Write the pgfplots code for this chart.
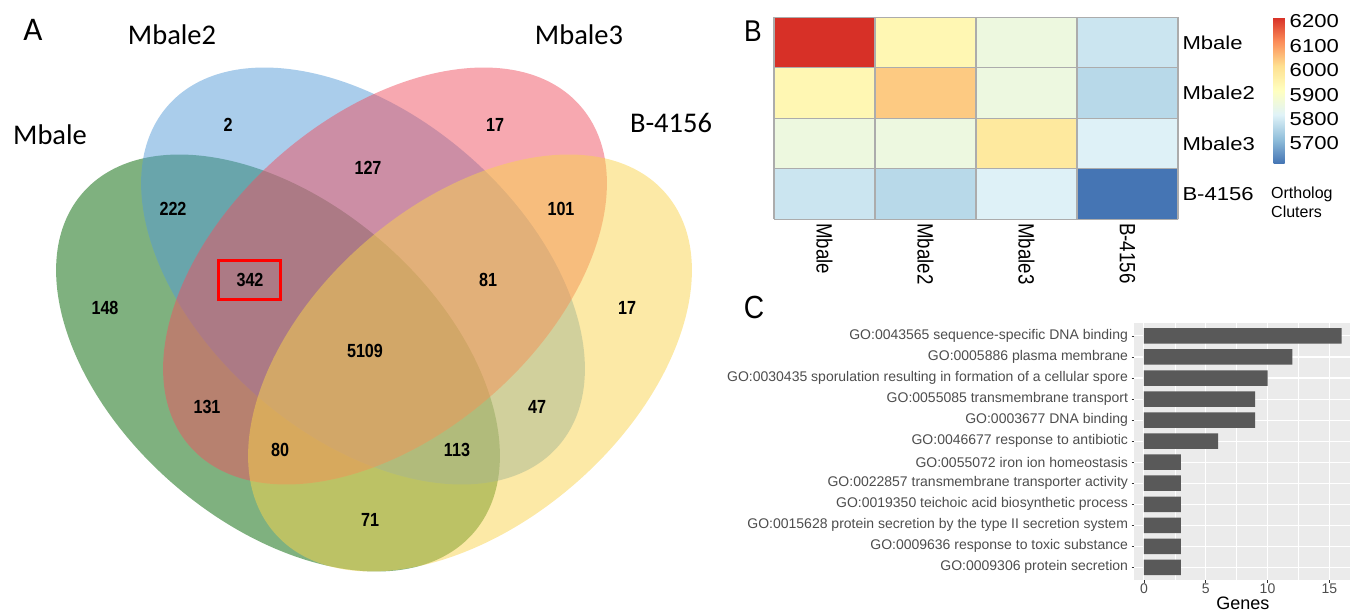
\documentclass[border=0pt]{standalone}
\usepackage{pgfplots}
\usepackage{pgfplotstable}
\pgfplotsset{compat=1.18}
\usepackage{fontspec}
\setmainfont{Liberation Sans}
\newfontfamily\calfont{Carlito}
\newfontfamily\numfont[FakeStretch=0.85]{Liberation Sans}
\newfontfamily\hmfont[FakeStretch=1.18]{Liberation Sans}
\newfontfamily\narrowfont[FakeStretch=0.88]{Liberation Sans}
\definecolor{vgreen}{RGB}{0,100,0}
\definecolor{vblue}{RGB}{85,155,215}
\definecolor{vpink}{RGB}{239,81,97}
\definecolor{vyellow}{RGB}{249,211,77}
\definecolor{ggbg}{RGB}{235,235,235}
\definecolor{ggbar}{RGB}{89,89,89}
\definecolor{ggtxt}{RGB}{77,77,77}
\definecolor{ggtick}{RGB}{51,51,51}

\pgfplotstableread{
x y n
228 125 2
495 125 17
368 168 127
173 209 222
561 209 101
250 279.5 342
488 280 81
105 308 148
627 308 17
365 351 5109
207 407 131
537 407 47
280 450 80
457 450 113
370 520 71
}\venncounts

\pgfplotstableread{
x y z
0 0 6216
1 0 5942
2 0 5861
3 0 5792
0 1 5942
1 1 6043
2 1 5860
3 1 5768
0 2 5861
1 2 5860
2 2 5988
3 2 5815
0 3 5792
1 3 5768
2 3 5815
3 3 5619
}\heatdata

\pgfplotstableread{
genes pos
16 1
12 2
10 3
9 4
9 5
6 6
3 7
3 8
3 9
3 10
3 11
3 12
}\godata

\begin{document}
\begin{tikzpicture}[x=1pt,y=1pt]
\useasboundingbox (0,0) rectangle (1350,611);
\clip (0,0) rectangle (1350,611);

% ---------------- A: Venn ----------------
\begin{axis}[at={(0pt,0pt)}, anchor=south west, scale only axis,
  width=740pt, height=611pt, xmin=0, xmax=740, ymin=0, ymax=611,
  y dir=reverse, hide axis, clip=false]
\fill[vgreen, fill opacity=0.5] (axis cs:278,363) ellipse [x radius=259pt, y radius=160pt, rotate=-41];
\fill[vblue, fill opacity=0.5] (axis cs:363,276) ellipse [x radius=259pt, y radius=160pt, rotate=-41];
\fill[vpink, fill opacity=0.5] (axis cs:385,276) ellipse [x radius=259pt, y radius=160pt, rotate=41];
\fill[vyellow, fill opacity=0.5] (axis cs:470,363) ellipse [x radius=259pt, y radius=160pt, rotate=41];
\draw[red, line width=2.2pt] (axis cs:218.5,260.5) rectangle (axis cs:280.5,299.5);
\addplot[only marks, mark=none, nodes near coords, nodes near coords align=center,
  point meta=explicit symbolic,
  every node near coord/.append style={font=\numfont\bfseries\fontsize{19}{20}\selectfont, inner sep=0pt, anchor=center}]
  table[x=x, y=y, meta=n] \venncounts;
\node[font=\calfont\fontsize{28.5}{30}\selectfont] at (axis cs:172,35) {Mbale2};
\node[font=\calfont\fontsize{28.5}{30}\selectfont] at (axis cs:579,35) {Mbale3};
\node[font=\calfont\fontsize{28.5}{30}\selectfont] at (axis cs:50,135) {Mbale};
\node[font=\calfont\fontsize{28.5}{30}\selectfont] at (axis cs:671,123) {B-4156};
\node[font=\calfont\fontsize{33}{34}\selectfont] at (axis cs:33,30) {A};
\end{axis}

% ---------------- B: heatmap ----------------
\begin{axis}[at={(774pt,391.7pt)}, anchor=south west, scale only axis,
  width=404pt, height=202pt,
  xmin=-0.5, xmax=3.5, ymin=-0.5, ymax=3.5, y dir=reverse,
  enlargelimits=false, axis on top,
  axis line style={draw=none}, major tick length=0pt, minor tick length=0pt,
  xtick={0,1,2,3}, xticklabels={Mbale,Mbale2,Mbale3,B-4156},
  ytick={0,1,2,3}, yticklabels={Mbale,Mbale2,Mbale3,B-4156},
  minor xtick={-0.5,0.5,1.5,2.5,3.5}, minor ytick={-0.5,0.5,1.5,2.5,3.5},
  grid=minor, minor grid style={gray!65, line width=1.1pt},
  yticklabel pos=right,
  x tick label style={font=\fontsize{18.7}{19}\selectfont, rotate=-90, anchor=west, inner sep=0pt, yscale=1.18},
  xticklabel shift=3.7pt,
  y tick label style={font=\hmfont\fontsize{18.7}{19}\selectfont, anchor=west, inner sep=0pt},
  yticklabel shift=4.3pt,
  colormap={rdylbu}{rgb255=(69,117,180) rgb255=(145,191,219) rgb255=(224,243,248) rgb255=(255,255,191) rgb255=(254,224,144) rgb255=(252,141,89) rgb255=(215,48,39)},
  point meta min=5619, point meta max=6216,
  colorbar,
  colorbar style={
    at={(parent axis.north east)}, anchor=north west,
    xshift=87pt, yshift=0pt,
    scale only axis, width=11pt, height=146pt,
    y dir=normal,
    ytick={5700,5800,5900,6000,6100,6200},
    xtick=\empty,
    major tick length=0pt,
    axis line style={draw=none},
    yticklabel style={font=\hmfont\fontsize{18.7}{19}\selectfont, /pgf/number format/1000 sep={}, /pgf/number format/assume math mode=true, inner sep=0pt, anchor=west},
    yticklabel shift=5pt,
  },
]
\addplot[matrix plot*, mesh/cols=4, point meta=explicit] table[x=x, y=y, meta=z] \heatdata;
\end{axis}

% ---------------- C: GO bar chart ----------------
\begin{axis}[at={(1134pt,31pt)}, anchor=south west, scale only axis,
  width=217.6pt, height=256.7pt,
  xmin=-0.8, xmax=16.8, ymin=0.4, ymax=12.6, y dir=reverse,
  enlargelimits=false,
  xbar, bar width=15.5pt,
  axis background/.style={fill=ggbg},
  axis line style={draw=none},
  xtick={0,5,10,15}, minor xtick={2.5,7.5,12.5},
  ytick={1,2,3,4,5,6,7,8,9,10,11,12},
  yticklabels={GO:0043565 sequence-specific DNA binding,
    GO:0005886 plasma membrane,
    GO:0030435 sporulation resulting in formation of a cellular spore,
    GO:0055085 transmembrane transport,
    GO:0003677 DNA binding,
    GO:0046677 response to antibiotic,
    GO:0055072 iron ion homeostasis,
    GO:0022857 transmembrane transporter activity,
    GO:0019350 teichoic acid biosynthetic process,
    GO:0015628 protein secretion by the type II secretion system,
    GO:0009636 response to toxic substance,
    GO:0009306 protein secretion},
  xtick pos=left, ytick pos=left,
  grid=both,
  major grid style={white, line width=1.1pt},
  minor grid style={white, line width=0.5pt},
  tick align=outside, major tick length=2.5pt, minor tick length=0pt,
  major tick style={ggtick, line width=0.7pt},
  tick label style={font=\fontsize{14}{15}\selectfont, text=ggtxt},
  x tick label style={inner sep=1.2pt},
  /pgf/number format/assume math mode=true,
  xlabel={Genes},
  xlabel style={font=\fontsize{18}{19}\selectfont, text=black, inner sep=0pt,
    at={(axis description cs:0.5,0)}, anchor=base, yshift=-29.6pt},
]
\addplot[fill=ggbar, draw=none] table[x=genes, y=pos] \godata;
\end{axis}

% panel letters and legend title
\node[font=\narrowfont\fontsize{30}{31}\selectfont] at (753,580) {B};
\node[font=\narrowfont\fontsize{32}{33}\selectfont] at (754,303.5) {C};
\node[font=\fontsize{16}{17}\selectfont, anchor=west, inner sep=0pt] at (1271,417) {Ortholog};
\node[font=\fontsize{16}{17}\selectfont, anchor=west, inner sep=0pt] at (1271,399) {Cluters};
\end{tikzpicture}
\end{document}
